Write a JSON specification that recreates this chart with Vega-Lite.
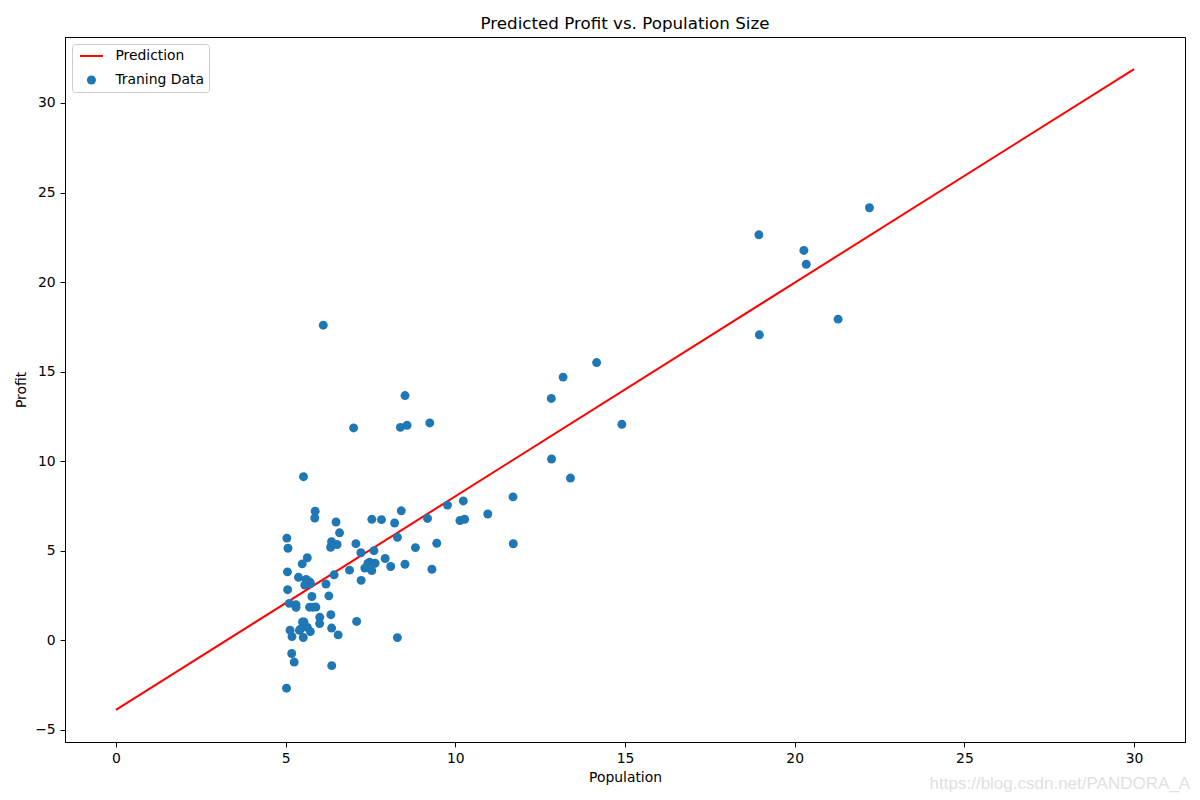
{
  "$schema": "https://vega.github.io/schema/vega-lite/v6.json",
  "width": 1120,
  "height": 705,
  "autosize": {"type": "none"},
  "padding": {"left": 65, "top": 37, "right": 15, "bottom": 58},
  "background": "white",
  "title": {"text": "Predicted Profit vs. Population Size", "font": "DejaVu Sans", "fontSize": 16.7, "fontWeight": "normal", "color": "black", "offset": 4, "anchor": "middle"},
  "config": {
    "view": {"stroke": "black", "strokeWidth": 1},
    "axis": {"grid": false, "domainColor": "black", "domainWidth": 1, "tickColor": "black", "tickWidth": 1, "tickSize": 4.9, "labelPadding": 4.9, "labelFont": "DejaVu Sans", "labelFontSize": 13.9, "labelColor": "black", "titleFont": "DejaVu Sans", "titleFontSize": 13.9, "titleFontWeight": "normal", "titleColor": "black"},
    "legend": {"orient": "top-left", "offset": 7, "padding": 5, "strokeColor": "#cccccc", "fillColor": "rgba(255,255,255,0.8)", "cornerRadius": 3, "labelFont": "DejaVu Sans", "labelFontSize": 13.9, "labelColor": "black", "symbolSize": 100, "symbolOffset": 7.5, "labelOffset": 17, "rowPadding": 9}
  },
  "datasets": {
    "line": [
      {"population": 0, "profit": -3.8958, "series": "Prediction"},
      {"population": 30, "profit": 31.894, "series": "Prediction"}
    ],
    "points": [
      {"population": 6.1101, "profit": 17.592, "series": "Traning Data"},
      {"population": 5.5277, "profit": 9.1302, "series": "Traning Data"},
      {"population": 8.5186, "profit": 13.662, "series": "Traning Data"},
      {"population": 7.0032, "profit": 11.854, "series": "Traning Data"},
      {"population": 5.8598, "profit": 6.8233, "series": "Traning Data"},
      {"population": 8.3829, "profit": 11.886, "series": "Traning Data"},
      {"population": 7.4764, "profit": 4.3483, "series": "Traning Data"},
      {"population": 8.5781, "profit": 12.0, "series": "Traning Data"},
      {"population": 6.4862, "profit": 6.5987, "series": "Traning Data"},
      {"population": 5.0546, "profit": 3.8166, "series": "Traning Data"},
      {"population": 5.7107, "profit": 3.2522, "series": "Traning Data"},
      {"population": 14.164, "profit": 15.505, "series": "Traning Data"},
      {"population": 5.734, "profit": 3.1551, "series": "Traning Data"},
      {"population": 8.4084, "profit": 7.2258, "series": "Traning Data"},
      {"population": 5.6407, "profit": 0.71618, "series": "Traning Data"},
      {"population": 5.3794, "profit": 3.5129, "series": "Traning Data"},
      {"population": 6.3654, "profit": 5.3048, "series": "Traning Data"},
      {"population": 5.1301, "profit": 0.56077, "series": "Traning Data"},
      {"population": 6.4296, "profit": 3.6518, "series": "Traning Data"},
      {"population": 7.0708, "profit": 5.3893, "series": "Traning Data"},
      {"population": 6.1891, "profit": 3.1386, "series": "Traning Data"},
      {"population": 20.27, "profit": 21.767, "series": "Traning Data"},
      {"population": 5.4901, "profit": 4.263, "series": "Traning Data"},
      {"population": 6.3261, "profit": 5.1875, "series": "Traning Data"},
      {"population": 5.5649, "profit": 3.0825, "series": "Traning Data"},
      {"population": 18.945, "profit": 22.638, "series": "Traning Data"},
      {"population": 12.828, "profit": 13.501, "series": "Traning Data"},
      {"population": 10.957, "profit": 7.0467, "series": "Traning Data"},
      {"population": 13.176, "profit": 14.692, "series": "Traning Data"},
      {"population": 22.203, "profit": 24.147, "series": "Traning Data"},
      {"population": 5.2524, "profit": -1.22, "series": "Traning Data"},
      {"population": 6.5894, "profit": 5.9966, "series": "Traning Data"},
      {"population": 9.2482, "profit": 12.134, "series": "Traning Data"},
      {"population": 5.8918, "profit": 1.8495, "series": "Traning Data"},
      {"population": 8.2111, "profit": 6.5426, "series": "Traning Data"},
      {"population": 7.9334, "profit": 4.5623, "series": "Traning Data"},
      {"population": 8.0959, "profit": 4.1164, "series": "Traning Data"},
      {"population": 5.6063, "profit": 3.3928, "series": "Traning Data"},
      {"population": 12.836, "profit": 10.117, "series": "Traning Data"},
      {"population": 6.3534, "profit": 5.4974, "series": "Traning Data"},
      {"population": 5.4069, "profit": 0.55657, "series": "Traning Data"},
      {"population": 6.8825, "profit": 3.9115, "series": "Traning Data"},
      {"population": 11.708, "profit": 5.3854, "series": "Traning Data"},
      {"population": 5.7737, "profit": 2.4406, "series": "Traning Data"},
      {"population": 7.8247, "profit": 6.7318, "series": "Traning Data"},
      {"population": 7.0931, "profit": 1.0463, "series": "Traning Data"},
      {"population": 5.0702, "profit": 5.1337, "series": "Traning Data"},
      {"population": 5.8014, "profit": 1.844, "series": "Traning Data"},
      {"population": 11.7, "profit": 8.0043, "series": "Traning Data"},
      {"population": 5.5416, "profit": 1.0179, "series": "Traning Data"},
      {"population": 7.5402, "profit": 6.7504, "series": "Traning Data"},
      {"population": 5.3077, "profit": 1.8396, "series": "Traning Data"},
      {"population": 7.4239, "profit": 4.2885, "series": "Traning Data"},
      {"population": 7.6031, "profit": 4.9981, "series": "Traning Data"},
      {"population": 6.3328, "profit": 1.4233, "series": "Traning Data"},
      {"population": 6.3589, "profit": -1.4211, "series": "Traning Data"},
      {"population": 6.2742, "profit": 2.4756, "series": "Traning Data"},
      {"population": 5.6397, "profit": 4.6042, "series": "Traning Data"},
      {"population": 9.3102, "profit": 3.9624, "series": "Traning Data"},
      {"population": 9.4536, "profit": 5.4141, "series": "Traning Data"},
      {"population": 8.8254, "profit": 5.1694, "series": "Traning Data"},
      {"population": 5.1793, "profit": -0.74279, "series": "Traning Data"},
      {"population": 21.279, "profit": 17.929, "series": "Traning Data"},
      {"population": 14.908, "profit": 12.054, "series": "Traning Data"},
      {"population": 18.959, "profit": 17.054, "series": "Traning Data"},
      {"population": 7.2182, "profit": 4.8852, "series": "Traning Data"},
      {"population": 8.2951, "profit": 5.7442, "series": "Traning Data"},
      {"population": 10.236, "profit": 7.7754, "series": "Traning Data"},
      {"population": 5.4994, "profit": 1.0173, "series": "Traning Data"},
      {"population": 20.341, "profit": 20.992, "series": "Traning Data"},
      {"population": 10.136, "profit": 6.6799, "series": "Traning Data"},
      {"population": 7.3345, "profit": 4.0259, "series": "Traning Data"},
      {"population": 6.0062, "profit": 1.2784, "series": "Traning Data"},
      {"population": 7.2259, "profit": 3.3411, "series": "Traning Data"},
      {"population": 5.0269, "profit": -2.6807, "series": "Traning Data"},
      {"population": 6.5479, "profit": 0.29678, "series": "Traning Data"},
      {"population": 7.5386, "profit": 3.8845, "series": "Traning Data"},
      {"population": 5.0365, "profit": 5.7014, "series": "Traning Data"},
      {"population": 10.274, "profit": 6.7526, "series": "Traning Data"},
      {"population": 5.1077, "profit": 2.0576, "series": "Traning Data"},
      {"population": 5.7292, "profit": 0.47953, "series": "Traning Data"},
      {"population": 5.1884, "profit": 0.20421, "series": "Traning Data"},
      {"population": 6.3557, "profit": 0.67861, "series": "Traning Data"},
      {"population": 9.7687, "profit": 7.5435, "series": "Traning Data"},
      {"population": 6.5159, "profit": 5.3436, "series": "Traning Data"},
      {"population": 8.5172, "profit": 4.2415, "series": "Traning Data"},
      {"population": 9.1802, "profit": 6.7981, "series": "Traning Data"},
      {"population": 6.002, "profit": 0.92695, "series": "Traning Data"},
      {"population": 5.5204, "profit": 0.152, "series": "Traning Data"},
      {"population": 5.0594, "profit": 2.8214, "series": "Traning Data"},
      {"population": 5.7077, "profit": 1.8451, "series": "Traning Data"},
      {"population": 7.6366, "profit": 4.2959, "series": "Traning Data"},
      {"population": 5.8707, "profit": 7.2029, "series": "Traning Data"},
      {"population": 5.3054, "profit": 1.9869, "series": "Traning Data"},
      {"population": 8.2934, "profit": 0.14454, "series": "Traning Data"},
      {"population": 13.394, "profit": 9.0551, "series": "Traning Data"},
      {"population": 5.4369, "profit": 0.61705, "series": "Traning Data"}
    ],
    "watermark": [
      {"label": "https://blog.csdn.net/PANDORA_A"}
    ]
  },
  "layer": [
    {
      "data": {"name": "line"},
      "mark": {"type": "line", "strokeWidth": 2},
      "encoding": {
        "x": {"field": "population", "type": "quantitative", "scale": {"domain": [-1.5, 31.5], "nice": false, "zero": false}, "axis": {"title": "Population", "values": [0, 5, 10, 15, 20, 25, 30], "titlePadding": 5}},
        "y": {"field": "profit", "type": "quantitative", "scale": {"domain": [-5.685, 33.684], "nice": false, "zero": false}, "axis": {"title": "Profit", "values": [-5, 0, 5, 10, 15, 20, 25, 30], "titlePadding": 6}},
        "color": {"field": "series", "type": "nominal", "scale": {"domain": ["Prediction", "Traning Data"], "range": ["#ff0000", "#1f77b4"]},
          "legend": {"title": null,
            "encode": {"symbols": {"update": {
              "fill": {"scale": "color", "field": "value"},
              "stroke": {"value": "transparent"},
              "strokeWidth": {"value": 0},
              "opacity": {"value": 1},
              "shape": {"signal": "datum.value === 'Prediction' ? 'M-2.3,-0.2H2.3V0.2H-2.3Z' : 'circle'"},
              "size": {"signal": "datum.value === 'Prediction' ? 100 : 81"}
            }}}}}
      }
    },
    {
      "data": {"name": "points"},
      "mark": {"type": "point", "filled": true, "opacity": 1, "size": 80, "shape": "circle"},
      "encoding": {
        "x": {"field": "population", "type": "quantitative"},
        "y": {"field": "profit", "type": "quantitative"},
        "color": {"field": "series", "type": "nominal"}
      }
    },
    {
      "data": {"name": "watermark"},
      "mark": {"type": "text", "align": "right", "baseline": "alphabetic", "font": "Liberation Sans", "fontSize": 17, "color": "#e0e0e0", "clip": false},
      "encoding": {
        "x": {"datum": 31.65},
        "y": {"datum": -8.31},
        "text": {"field": "label"}
      }
    }
  ]
}
